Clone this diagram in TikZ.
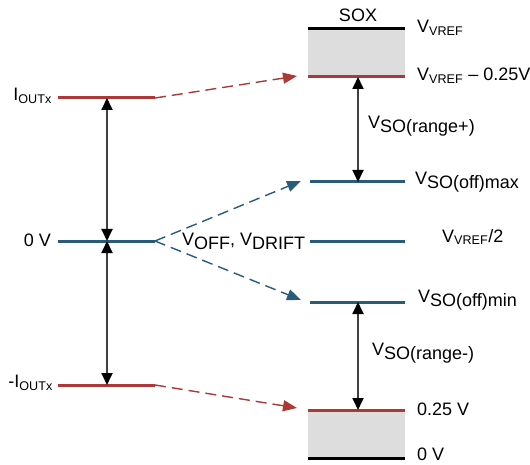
\documentclass[tikz,border=0pt]{standalone}
\usepackage{fontspec}
\setmainfont{Liberation Sans}
\usetikzlibrary{arrows.meta, positioning}
\definecolor{lvlred}{RGB}{172,56,56}
\definecolor{lvlblue}{RGB}{40,92,122}
\definecolor{boxgray}{RGB}{221,221,221}
\newcommand{\lsub}[1]{\raisebox{-0.4ex}{#1}}

\begin{document}
\begin{tikzpicture}[x=1pt, y=-1pt, font=\fontsize{18}{21}\selectfont,
  level/.style={line width=3pt},
  span/.style={line width=1.8pt, black!75, {Triangle[length=12pt,width=11pt,fill=black,color=black]}-{Triangle[length=12pt,width=11pt,fill=black,color=black]}},
  moveto/.style={line width=1.4pt, dash pattern=on 11pt off 6pt, -{Triangle[length=14pt,width=11pt]}},
  lbl/.style={inner sep=0pt, anchor=west},
  rlbl/.style={inner sep=0pt, anchor=east}]
\useasboundingbox (0,0) rectangle (530,465);

% level end points
\coordinate (ip-l) at (58,98);   \coordinate (ip-r) at (155,98);   \coordinate (ip-m) at (107,98);
\coordinate (z-l) at (58,241);   \coordinate (z-r) at (155,241);   \coordinate (z-m) at (107,241);
\coordinate (in-l) at (58,385);  \coordinate (in-r) at (155,385);  \coordinate (in-m) at (107,385);
\coordinate (top-l) at (308,29); \coordinate (top-r) at (405,29);
\coordinate (hi-l) at (308,77);  \coordinate (hi-r) at (405,77);   \coordinate (hi-m) at (358,77);
\coordinate (max-l) at (310,182); \coordinate (max-r) at (405,182); \coordinate (max-m) at (358,182);
\coordinate (mid-l) at (310,241); \coordinate (mid-r) at (405,241);
\coordinate (min-l) at (310,302); \coordinate (min-r) at (405,302); \coordinate (min-m) at (358,302);
\coordinate (lo-l) at (308,410);  \coordinate (lo-r) at (405,410); \coordinate (lo-m) at (358,410);
\coordinate (gnd-l) at (308,458); \coordinate (gnd-r) at (405,458);

% dashed arrow tips
\coordinate (ip-t) at (297,76);
\coordinate (max-t) at (301,181);
\coordinate (min-t) at (301,300);
\coordinate (in-t) at (297,408);

% grey bands
\fill[boxgray] (top-l) rectangle (hi-r);
\fill[boxgray] (lo-l) rectangle (gnd-r);

% levels
\draw[level, lvlred] (ip-l) -- (ip-r);
\draw[level, lvlblue] (z-l) -- (z-r);
\draw[level, lvlred] (in-l) -- (in-r);
\draw[level, black] (top-l) -- (top-r);
\draw[level, lvlred] (hi-l) -- (hi-r);
\draw[level, lvlblue] (max-l) -- (max-r);
\draw[level, lvlblue] (mid-l) -- (mid-r);
\draw[level, lvlblue] (min-l) -- (min-r);
\draw[level, lvlred] (lo-l) -- (lo-r);
\draw[level, black] (gnd-l) -- (gnd-r);

% spans
\draw[span] (ip-m) -- (z-m);
\draw[span] (in-m) -- (z-m);
\draw[span] (hi-m) -- (max-m);
\draw[span] (lo-m) -- (min-m);

% offsets
\draw[moveto, lvlred] (ip-r) -- (ip-t);
\draw[moveto, lvlblue] (z-r) -- (max-t);
\draw[moveto, lvlblue] (z-r) -- (min-t);
\draw[moveto, lvlred] (in-r) -- (in-t);

% labels
\node[rlbl] (iplbl) at (52,96) {I\textsubscript{OUTx}};
\node[rlbl] (zlbl) at (51,240) {0 V};
\node[rlbl] (inlbl) at (53,383) {-I\textsubscript{OUTx}};
\node[inner sep=0pt] (sox) at (358,15) {SOX};
\node[lbl] (toplbl) at (417,28) {V\textsubscript{VREF}};
\node[lbl] (hilbl) at (417,76) {V\textsubscript{VREF} -- 0.25V};
\node[lbl] (rplbl) at (368,126) {V\lsub{SO(range+)}};
\node[lbl] (maxlbl) at (415,182) {V\lsub{SO(off)max}};
\node[lbl] (offlbl) at (182,241) {V\lsub{OFF}, V\lsub{DRIFT}};
\node[lbl] (midlbl) at (442,237) {V\textsubscript{VREF}/2};
\node[lbl] (minlbl) at (418,300) {V\lsub{SO(off)min}};
\node[lbl] (rmlbl) at (372,353) {V\lsub{SO(range-)}};
\node[lbl] (lolbl) at (417,409) {0.25 V};
\node[lbl] (gndlbl) at (417,454) {0 V};
\end{tikzpicture}
\end{document}
